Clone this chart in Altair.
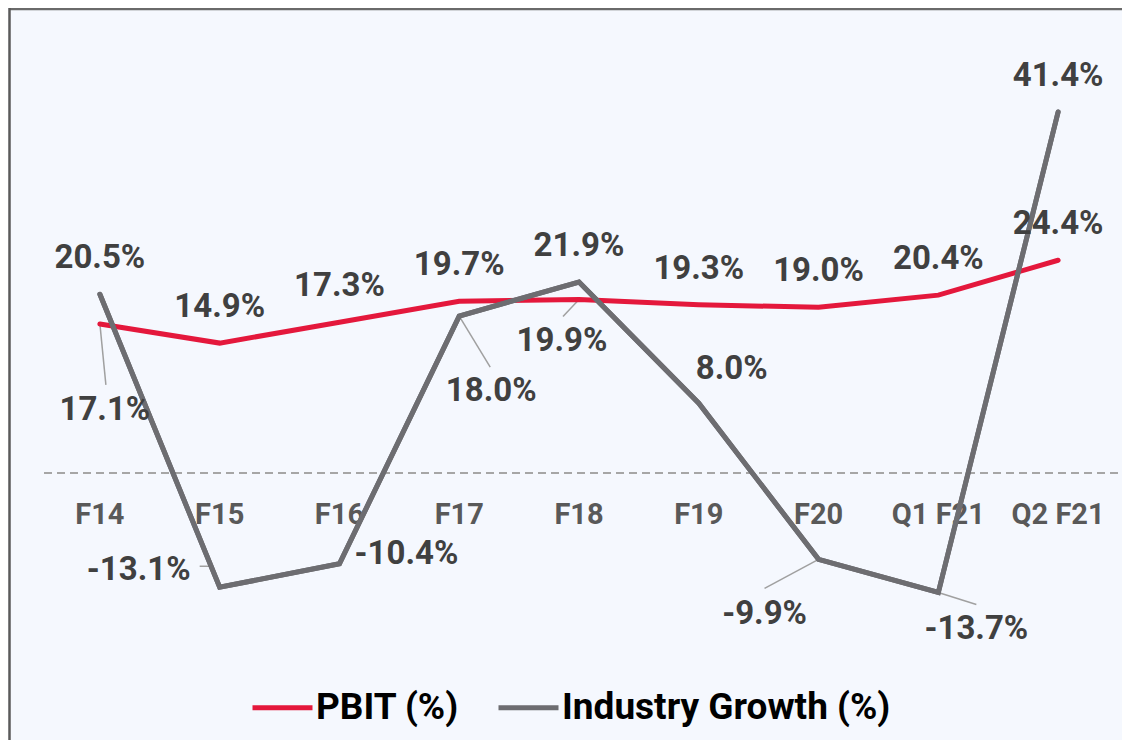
import json
import altair as alt
import pandas as pd

categories = ["F14", "F15", "F16", "F17", "F18", "F19", "F20", "Q1 F21", "Q2 F21"]
pbit = [17.1, 14.9, 17.3, 19.7, 19.9, 19.3, 19.0, 20.4, 24.4]
industry = [20.5, -13.1, -10.4, 18.0, 21.9, 8.0, -9.9, -13.7, 41.4]
series_names = ["PBIT (%)", "Industry Growth (%)"]

rows = []
for c, v in zip(categories, pbit):
    rows.append({"cat": c, "series": series_names[0], "value": v, "zero": 0})
for c, v in zip(categories, industry):
    rows.append({"cat": c, "series": series_names[1], "value": v, "zero": 0})
df = pd.DataFrame(rows)
df["label"] = df["value"].map(lambda v: f"{v:.1f}%")

RED = "#E4183C"
GRAY = "#6D6D71"
FONT = "Roboto"

base = alt.Chart(df)
X = alt.X("cat:N", sort=categories, scale=alt.Scale(type="point", padding=0.5), axis=None)
Y = alt.Y("value:Q", scale=alt.Scale(domain=[-18, 50], nice=False, zero=False), axis=None)
Y0 = alt.Y("zero:Q", axis=None)


def sel(series, cats):
    return f"datum.series === '{series}' && indexof({json.dumps(cats)}, datum.cat) >= 0"


def labels(series, cats, dx=0, dy=-35):
    return base.transform_filter(sel(series, cats)).mark_text(
        dx=dx, dy=dy, font=FONT, fontSize=33, fontWeight="bold",
        color="#404040", baseline="middle", align="center"
    ).encode(x=X, y=Y, text="label:N")


def leader(series, cat, x1=0, y1=0, x2=0, y2=0):
    return base.transform_filter(sel(series, [cat])).mark_rule(
        color="#A0A0A0", strokeWidth=1.5,
        xOffset=x1, yOffset=y1, x2Offset=x2, y2Offset=y2
    ).encode(x=X, y=Y, x2=alt.X2("cat"), y2=alt.Y2("value"))


P, I = series_names

zero_line = base.transform_filter(f"datum.series === '{P}'").mark_rule(
    strokeDash=[8, 5], color="#A6A6A6", strokeWidth=1.5
).encode(y=Y0)

xlabels = base.transform_filter(f"datum.series === '{P}'").mark_text(
    dy=42, font=FONT, fontSize=29, fontWeight="bold", color="#595959",
    baseline="middle", align="center"
).encode(x=X, y=Y0, text="cat:N")

leaders = [
    leader(P, "F14", x2=6, y2=61),
    leader(I, "F17", x2=31, y2=51),
    leader(P, "F18", x2=-16, y2=17),
    leader(I, "F20", x2=-54, y2=29),
    leader(I, "Q1 F21", x2=38, y2=12),
    leader(I, "F15", x2=-10, y2=-21),
    leader(I, "F15", x1=-10, y1=-21, x2=-20, y2=-21),
]

lines = base.mark_line(strokeWidth=5, strokeCap="round").encode(
    x=X, y=Y,
    color=alt.Color(
        "series:N",
        scale=alt.Scale(domain=series_names, range=[RED, GRAY]),
        legend=alt.Legend(
            orient="none", legendX=210, legendY=638, direction="horizontal",
            title=None, symbolType="stroke", symbolSize=3600, symbolStrokeWidth=5,
            labelFont=FONT, labelFontSize=37, labelFontWeight="bold",
            labelColor="black", labelLimit=600, columnPadding=28, labelOffset=1,
        ),
    ),
)
industry_top = base.transform_filter(f"datum.series === '{I}'").mark_line(
    strokeWidth=5, strokeCap="round", color=GRAY
).encode(x=X, y=Y)

value_labels = [
    labels(P, ["F15", "F16", "F17", "F19", "F20", "Q1 F21", "Q2 F21"], dy=-36),
    labels(I, ["F14", "F18", "Q2 F21"], dy=-36),
    labels(I, ["F19"], dx=33, dy=-34),
    labels(P, ["F14"], dx=5, dy=86),
    labels(I, ["F17"], dx=32, dy=75),
    labels(P, ["F18"], dx=-17, dy=42),
    labels(I, ["F20"], dx=-54, dy=55),
    labels(I, ["Q1 F21"], dx=38, dy=36),
    labels(I, ["F15"], dx=-81, dy=-17),
    labels(I, ["F16"], dx=67, dy=-10),
]

frame = pd.DataFrame({"k": [0]})
border_top = alt.Chart(frame).mark_rule(color="#6A6A6A", strokeWidth=2.5).encode(
    x=alt.value(-31), x2=alt.value(1100), y=alt.value(-28), y2=alt.value(-28)
)
border_left = alt.Chart(frame).mark_rule(color="#5A5A5A", strokeWidth=2.5).encode(
    x=alt.value(-30.5), x2=alt.value(-30.5), y=alt.value(-29), y2=alt.value(720)
)

chart = alt.layer(
    border_top, border_left, zero_line, xlabels, *leaders, lines, industry_top, *value_labels
).properties(
    width=1078, height=593,
    autosize=alt.AutoSizeParams(type="none"),
    padding={"left": 32, "top": 29, "right": 4, "bottom": 110},
    background="#F5F8FE",
).configure_view(stroke=None)

chart.save("out.html", embed_options={"renderer": "svg", "actions": False})
